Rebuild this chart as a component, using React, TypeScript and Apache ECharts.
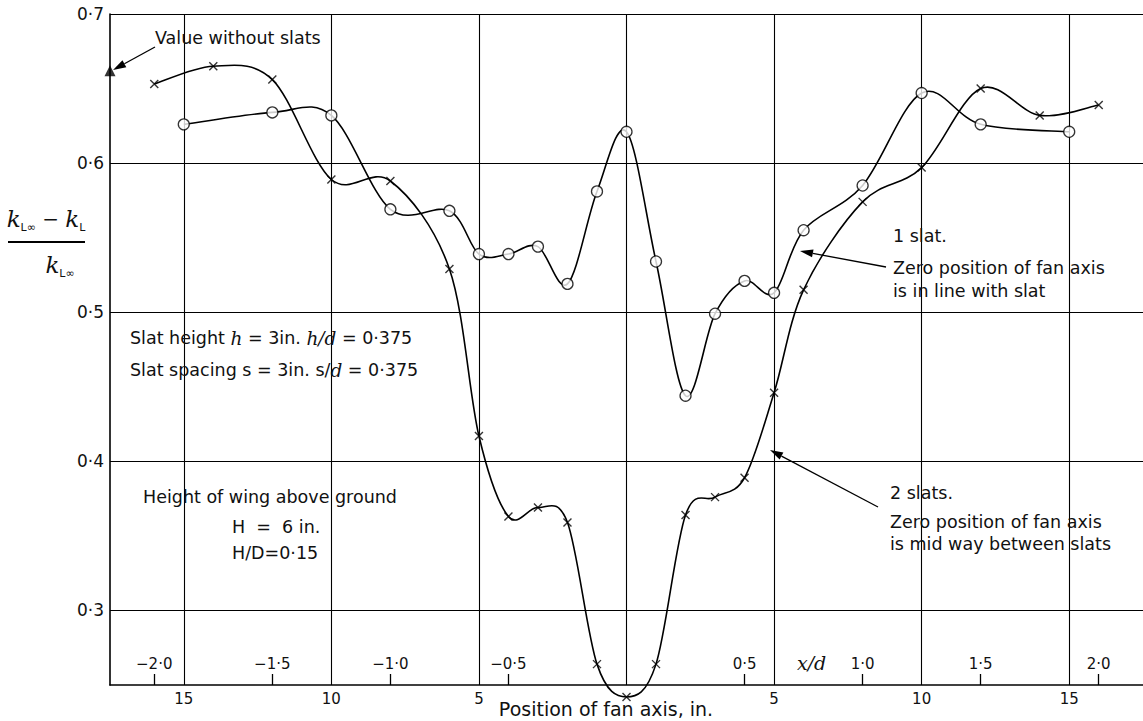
import React, { useEffect, useRef } from "react";
import * as echarts from "echarts";

// Position of fan axis (in.) and (kL∞ − kL)/kL∞ values
const xOneSlat = [-15, -12, -10, -8, -6, -5, -4, -3, -2, -1, 0, 1, 2, 3, 4, 5, 6, 8, 10, 12, 15];
const kOneSlat = [0.626, 0.634, 0.632, 0.569, 0.568, 0.539, 0.539, 0.544, 0.519, 0.581, 0.621, 0.534, 0.444, 0.499, 0.521, 0.513, 0.555, 0.585, 0.647, 0.626, 0.621];
const xTwoSlats = [-16, -14, -12, -10, -8, -6, -5, -4, -3, -2, -1, 0, 1, 2, 3, 4, 5, 6, 8, 10, 12, 14, 16];
const kTwoSlats = [0.653, 0.665, 0.656, 0.589, 0.588, 0.529, 0.417, 0.363, 0.369, 0.359, 0.264, 0.242, 0.264, 0.364, 0.376, 0.389, 0.446, 0.515, 0.574, 0.597, 0.650, 0.632, 0.639];
const noSlatValue = [[-17.5, 0.662]];

const xTicks = [-15, -10, -5, 0, 5, 10, 15];
const xLabelTicks = [-15, -10, -5, 5, 10, 15];
const yTicks = [0.3, 0.4, 0.5, 0.6, 0.7];
const xdTicks = [-2, -1.5, -1, -0.5, 0.5, 1, 1.5, 2];
const dInches = 8;

const FONT = "DejaVu Sans";
const TS = 17.5;

const fmtNum = (v: number, digits: number) =>
  (v < 0 ? "\u2212" : "") + Math.abs(v).toFixed(digits).replace(".", "\u00b7");

function arrow(x1: number, y1: number, x2: number, y2: number) {
  const dx = x2 - x1, dy = y2 - y1;
  const len = Math.sqrt(dx * dx + dy * dy);
  const ux = dx / len, uy = dy / len;
  const hl = 13, hw = 4;
  const bx = x2 - ux * hl, by = y2 - uy * hl;
  return [
    { type: "line", shape: { x1, y1, x2: bx, y2: by }, style: { stroke: "#000", lineWidth: 1.3 }, z: 50 },
    {
      type: "polygon",
      shape: { points: [[x2, y2], [bx - uy * hw, by + ux * hw], [bx + uy * hw, by - ux * hw]] },
      style: { fill: "#000" },
      z: 50,
    },
  ];
}

function txt(x: number, y: number, text: string, size = TS, extra: any = {}) {
  return {
    type: "text",
    x,
    y,
    z: 50,
    style: {
      text,
      fontFamily: FONT,
      fontSize: size,
      fill: "#111",
      verticalAlign: "middle",
      align: "left",
      ...extra,
    },
  };
}

// smooth curve through the data points (Catmull-Rom drawn as cubic Béziers)
function curveSeries(name: string, xs: number[], ys: number[]) {
  return {
    name,
    type: "custom",
    clip: false,
    data: xs.map((x, i) => [x, ys[i]]),
    encode: { x: 0, y: 1 },
    z: 4,
    silent: true,
    renderItem: (params: any, api: any) => {
      if (params.dataIndex !== 0) return null;
      const p = xs.map((x, i) => api.coord([x, ys[i]]));
      const n = p.length;
      let d = `M${p[0][0]},${p[0][1]}`;
      for (let i = 0; i < n - 1; i++) {
        const p0 = p[Math.max(0, i - 1)];
        const p1 = p[i];
        const p2 = p[i + 1];
        const p3 = p[Math.min(n - 1, i + 2)];
        const c1x = p1[0] + (p2[0] - p0[0]) / 6;
        const c1y = p1[1] + (p2[1] - p0[1]) / 6;
        const c2x = p2[0] - (p3[0] - p1[0]) / 6;
        const c2y = p2[1] - (p3[1] - p1[1]) / 6;
        d += ` C${c1x},${c1y} ${c2x},${c2y} ${p2[0]},${p2[1]}`;
      }
      return {
        type: "path",
        shape: { pathData: d },
        style: { fill: "none", stroke: "#000", lineWidth: 1.6 },
      };
    },
  };
}

const crossPath = "path://M0,0L10,10M10,0L0,10";

export default function App() {
  const ref = useRef<HTMLDivElement>(null);
  useEffect(() => {
    if (!ref.current) return;
    const chart = echarts.init(ref.current, null, { renderer: "svg" });
    const italicRich = {
      i: { fontFamily: "DejaVu Serif", fontStyle: "italic", fontSize: 18.5, fill: "#111" },
    };
    const option: any = {
      animation: false,
      backgroundColor: "#fff",
      grid: { left: 110, right: 0, top: 14, bottom: 36, containLabel: false },
      xAxis: [
        {
          type: "value",
          min: -17.5,
          max: 17.5,
          position: "bottom",
          axisLine: { show: true, onZero: false, lineStyle: { color: "#000", width: 1.6 } },
          axisTick: { show: false, customValues: xTicks },
          axisLabel: {
            customValues: xLabelTicks,
            formatter: (v: number) => String(Math.abs(v)),
            color: "#111",
            fontFamily: FONT,
            fontSize: 15,
            margin: 6,
          },
          splitLine: { show: true, lineStyle: { color: "#000", width: 1.1 } },
        },
        {
          type: "value",
          min: -17.5,
          max: 17.5,
          position: "bottom",
          axisLine: { show: false, onZero: false },
          axisTick: { show: true, inside: true, length: 11, customValues: xdTicks.map((v) => v * dInches), lineStyle: { color: "#000", width: 1.3 } },
          axisLabel: {
            inside: true,
            customValues: xdTicks.map((v) => v * dInches),
            formatter: (v: number) => fmtNum(v / dInches, 1),
            color: "#111",
            fontFamily: FONT,
            fontSize: 15,
            margin: 14,
          },
          splitLine: { show: false },
        },
      ],
      yAxis: {
        type: "value",
        min: 0.25,
        max: 0.7,
        axisLine: { show: true, onZero: false, lineStyle: { color: "#000", width: 1.6 } },
        axisTick: { show: false, customValues: yTicks },
        axisLabel: {
          customValues: yTicks,
          formatter: (v: number) => fmtNum(v, 1),
          color: "#111",
          fontFamily: FONT,
          fontSize: 17,
          margin: 6,
        },
        splitLine: { show: true, lineStyle: { color: "#000", width: 1.1 } },
      },
      series: [
        curveSeries("1 slat curve", xOneSlat, kOneSlat),
        curveSeries("2 slats curve", xTwoSlats, kTwoSlats),
        {
          name: "1 slat",
          type: "scatter",
          clip: false,
          data: xOneSlat.map((x, i) => [x, kOneSlat[i]]),
          symbol: "circle",
          symbolSize: 11,
          itemStyle: { color: "#fff", borderColor: "#000", borderWidth: 1.3 },
          z: 6,
        },
        {
          name: "2 slats",
          type: "scatter",
          clip: false,
          data: xTwoSlats.map((x, i) => [x, kTwoSlats[i]]),
          symbol: crossPath,
          symbolSize: 8,
          itemStyle: { color: "none", borderColor: "#000", borderWidth: 1.4 },
          z: 6,
        },
        {
          name: "Value without slats",
          type: "scatter",
          clip: false,
          data: noSlatValue,
          symbol: "triangle",
          symbolSize: 11,
          itemStyle: { color: "#000" },
          z: 7,
        },
      ],
      graphic: [
        txt(155, 38, "Value without slats"),
        ...arrow(155, 47, 113, 70),
        // y-axis title as a fraction
        {
          type: "text",
          x: 46,
          y: 219,
          z: 50,
          style: {
            text: "{k|k}{s|L\u221e}{m| \u2212 }{k|k}{s|L}",
            align: "center",
            verticalAlign: "middle",
            rich: {
              k: { fontFamily: "DejaVu Serif", fontStyle: "italic", fontSize: 23, fill: "#111", lineHeight: 28 },
              s: { fontFamily: FONT, fontSize: 11, fill: "#111", verticalAlign: "bottom", padding: [12, 0, 0, 0] },
              m: { fontFamily: FONT, fontSize: 20, fill: "#111" },
            },
          },
        },
        { type: "line", shape: { x1: 8, y1: 242, x2: 85, y2: 242 }, style: { stroke: "#000", lineWidth: 1.8 }, z: 50 },
        {
          type: "text",
          x: 60,
          y: 265,
          z: 50,
          style: {
            text: "{k|k}{s|L\u221e}",
            align: "center",
            verticalAlign: "middle",
            rich: {
              k: { fontFamily: "DejaVu Serif", fontStyle: "italic", fontSize: 23, fill: "#111", lineHeight: 28 },
              s: { fontFamily: FONT, fontSize: 11, fill: "#111", verticalAlign: "bottom", padding: [12, 0, 0, 0] },
            },
          },
        },
        txt(130, 338, "Slat height {i|h} = 3in. {i|h/d} = 0\u00b7375", TS, { rich: italicRich }),
        txt(130, 370, "Slat spacing s = 3in. s/{i|d} = 0\u00b7375", TS, { rich: italicRich }),
        txt(143, 497, "Height of wing above ground"),
        txt(232, 527, "H  =  6 in."),
        txt(232, 553, "H/D=0\u00b715"),
        txt(893, 236, "1 slat."),
        txt(893, 268, "Zero position of fan axis"),
        txt(893, 291, "is in line with slat"),
        ...arrow(886, 267, 800, 251),
        txt(890, 493, "2 slats."),
        txt(890, 522, "Zero position of fan axis"),
        txt(890, 544, "is mid way between slats"),
        ...arrow(878, 507, 770, 450),
        txt(797, 663, "x/d", 19, { fontFamily: "DejaVu Serif", fontStyle: "italic" }),
        txt(606, 709, "Position of fan axis, in.", 19, { align: "center" }),
      ],
    };
    chart.setOption(option);
    return () => chart.dispose();
  }, []);
  return (
    <div
      ref={ref}
      style={{ position: "absolute", left: 0, top: 0, width: 1143, height: 721, background: "#fff" }}
    />
  );
}
